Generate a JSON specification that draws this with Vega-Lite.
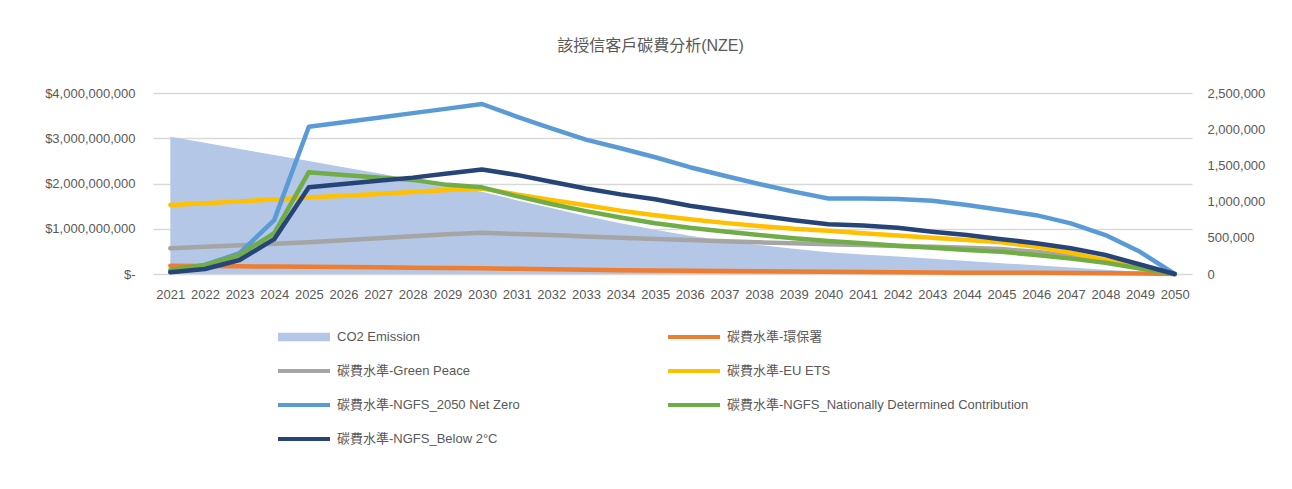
{
  "$schema": "https://vega.github.io/schema/vega-lite/v6.json",
  "width": 1039,
  "height": 181,
  "autosize": {"type": "none"},
  "padding": {"left": 153, "top": 93, "right": 100, "bottom": 215},
  "background": "white",
  "config": {
    "font": "Liberation Sans, Noto Sans CJK TC",
    "view": {"stroke": null},
    "axis": {"labelColor": "#595959", "labelFontSize": 13, "domain": false, "ticks": false, "titleColor": "#595959"},
    "legend": {"labelColor": "#595959", "labelFontSize": 13}
  },
  "title": {
    "text": "該授信客戶碳費分析(NZE)",
    "fontSize": 16,
    "fontWeight": "normal",
    "color": "#595959",
    "anchor": "middle",
    "dx": -22,
    "offset": 33
  },
  "data": {
    "values": [
      {"year": 2021, "co2": 1896000, "碳費水準-環保署": 180000000, "碳費水準-Green Peace": 567000000, "碳費水準-EU ETS": 1525000000, "碳費水準-NGFS_2050 Net Zero": 50000000, "碳費水準-NGFS_Nationally Determined Contribution": 90000000, "碳費水準-NGFS_Below 2°C": 37000000},
      {"year": 2022, "co2": 1812000, "碳費水準-環保署": 175000000, "碳費水準-Green Peace": 600000000, "碳費水準-EU ETS": 1565000000, "碳費水準-NGFS_2050 Net Zero": 200000000, "碳費水準-NGFS_Nationally Determined Contribution": 200000000, "碳費水準-NGFS_Below 2°C": 110000000},
      {"year": 2023, "co2": 1728000, "碳費水準-環保署": 170000000, "碳費水準-Green Peace": 635000000, "碳費水準-EU ETS": 1605000000, "碳費水準-NGFS_2050 Net Zero": 460000000, "碳費水準-NGFS_Nationally Determined Contribution": 420000000, "碳費水準-NGFS_Below 2°C": 310000000},
      {"year": 2024, "co2": 1644000, "碳費水準-環保署": 165000000, "碳費水準-Green Peace": 670000000, "碳費水準-EU ETS": 1645000000, "碳費水準-NGFS_2050 Net Zero": 1190000000, "碳費水準-NGFS_Nationally Determined Contribution": 900000000, "碳費水準-NGFS_Below 2°C": 770000000},
      {"year": 2025, "co2": 1560000, "碳費水準-環保署": 160000000, "碳費水準-Green Peace": 700000000, "碳費水準-EU ETS": 1690000000, "碳費水準-NGFS_2050 Net Zero": 3255000000, "碳費水準-NGFS_Nationally Determined Contribution": 2250000000, "碳費水準-NGFS_Below 2°C": 1915000000},
      {"year": 2026, "co2": 1475000, "碳費水準-環保署": 155000000, "碳費水準-Green Peace": 745000000, "碳費水準-EU ETS": 1730000000, "碳費水準-NGFS_2050 Net Zero": 3355000000, "碳費水準-NGFS_Nationally Determined Contribution": 2190000000, "碳費水準-NGFS_Below 2°C": 1990000000},
      {"year": 2027, "co2": 1390000, "碳費水準-環保署": 150000000, "碳費水準-Green Peace": 790000000, "碳費水準-EU ETS": 1770000000, "碳費水準-NGFS_2050 Net Zero": 3455000000, "碳費水準-NGFS_Nationally Determined Contribution": 2130000000, "碳費水準-NGFS_Below 2°C": 2060000000},
      {"year": 2028, "co2": 1305000, "碳費水準-環保署": 140000000, "碳費水準-Green Peace": 835000000, "碳費水準-EU ETS": 1810000000, "碳費水準-NGFS_2050 Net Zero": 3555000000, "碳費水準-NGFS_Nationally Determined Contribution": 2080000000, "碳費水準-NGFS_Below 2°C": 2130000000},
      {"year": 2029, "co2": 1220000, "碳費水準-環保署": 135000000, "碳費水準-Green Peace": 880000000, "碳費水準-EU ETS": 1856000000, "碳費水準-NGFS_2050 Net Zero": 3655000000, "碳費水準-NGFS_Nationally Determined Contribution": 1970000000, "碳費水準-NGFS_Below 2°C": 2220000000},
      {"year": 2030, "co2": 1137000, "碳費水準-環保署": 125000000, "碳費水準-Green Peace": 913000000, "碳費水準-EU ETS": 1890000000, "碳費水準-NGFS_2050 Net Zero": 3757000000, "碳費水準-NGFS_Nationally Determined Contribution": 1915000000, "碳費水準-NGFS_Below 2°C": 2310000000},
      {"year": 2031, "co2": 1020000, "碳費水準-環保署": 115000000, "碳費水準-Green Peace": 885000000, "碳費水準-EU ETS": 1760000000, "碳費水準-NGFS_2050 Net Zero": 3480000000, "碳費水準-NGFS_Nationally Determined Contribution": 1720000000, "碳費水準-NGFS_Below 2°C": 2190000000},
      {"year": 2032, "co2": 910000, "碳費水準-環保署": 105000000, "碳費水準-Green Peace": 860000000, "碳費水準-EU ETS": 1635000000, "碳費水準-NGFS_2050 Net Zero": 3220000000, "碳費水準-NGFS_Nationally Determined Contribution": 1547000000, "碳費水準-NGFS_Below 2°C": 2040000000},
      {"year": 2033, "co2": 800000, "碳費水準-環保署": 95000000, "碳費水準-Green Peace": 830000000, "碳費水準-EU ETS": 1520000000, "碳費水準-NGFS_2050 Net Zero": 2970000000, "碳費水準-NGFS_Nationally Determined Contribution": 1390000000, "碳費水準-NGFS_Below 2°C": 1890000000},
      {"year": 2034, "co2": 700000, "碳費水準-環保署": 85000000, "碳費水準-Green Peace": 800000000, "碳費水準-EU ETS": 1400000000, "碳費水準-NGFS_2050 Net Zero": 2780000000, "碳費水準-NGFS_Nationally Determined Contribution": 1250000000, "碳費水準-NGFS_Below 2°C": 1760000000},
      {"year": 2035, "co2": 610000, "碳費水準-環保署": 75000000, "碳費水準-Green Peace": 775000000, "碳費水準-EU ETS": 1300000000, "碳費水準-NGFS_2050 Net Zero": 2580000000, "碳費水準-NGFS_Nationally Determined Contribution": 1120000000, "碳費水準-NGFS_Below 2°C": 1650000000},
      {"year": 2036, "co2": 530000, "碳費水準-環保署": 70000000, "碳費水準-Green Peace": 750000000, "碳費水準-EU ETS": 1210000000, "碳費水準-NGFS_2050 Net Zero": 2360000000, "碳費水準-NGFS_Nationally Determined Contribution": 1020000000, "碳費水準-NGFS_Below 2°C": 1510000000},
      {"year": 2037, "co2": 460000, "碳費水準-環保署": 65000000, "碳費水準-Green Peace": 725000000, "碳費水準-EU ETS": 1130000000, "碳費水準-NGFS_2050 Net Zero": 2170000000, "碳費水準-NGFS_Nationally Determined Contribution": 940000000, "碳費水準-NGFS_Below 2°C": 1400000000},
      {"year": 2038, "co2": 400000, "碳費水準-環保署": 60000000, "碳費水準-Green Peace": 700000000, "碳費水準-EU ETS": 1060000000, "碳費水準-NGFS_2050 Net Zero": 1990000000, "碳費水準-NGFS_Nationally Determined Contribution": 860000000, "碳費水準-NGFS_Below 2°C": 1290000000},
      {"year": 2039, "co2": 350000, "碳費水準-環保署": 55000000, "碳費水準-Green Peace": 680000000, "碳費水準-EU ETS": 1000000000, "碳費水準-NGFS_2050 Net Zero": 1820000000, "碳費水準-NGFS_Nationally Determined Contribution": 790000000, "碳費水準-NGFS_Below 2°C": 1190000000},
      {"year": 2040, "co2": 300000, "碳費水準-環保署": 50000000, "碳費水準-Green Peace": 656000000, "碳費水準-EU ETS": 957000000, "碳費水準-NGFS_2050 Net Zero": 1670000000, "碳費水準-NGFS_Nationally Determined Contribution": 730000000, "碳費水準-NGFS_Below 2°C": 1100000000},
      {"year": 2041, "co2": 270000, "碳費水準-環保署": 45000000, "碳費水準-Green Peace": 640000000, "碳費水準-EU ETS": 900000000, "碳費水準-NGFS_2050 Net Zero": 1670000000, "碳費水準-NGFS_Nationally Determined Contribution": 680000000, "碳費水準-NGFS_Below 2°C": 1070000000},
      {"year": 2042, "co2": 240000, "碳費水準-環保署": 40000000, "碳費水準-Green Peace": 620000000, "碳費水準-EU ETS": 850000000, "碳費水準-NGFS_2050 Net Zero": 1657000000, "碳費水準-NGFS_Nationally Determined Contribution": 626000000, "碳費水準-NGFS_Below 2°C": 1020000000},
      {"year": 2043, "co2": 210000, "碳費水準-環保署": 35000000, "碳費水準-Green Peace": 600000000, "碳費水準-EU ETS": 800000000, "碳費水準-NGFS_2050 Net Zero": 1620000000, "碳費水準-NGFS_Nationally Determined Contribution": 580000000, "碳費水準-NGFS_Below 2°C": 935000000},
      {"year": 2044, "co2": 180000, "碳費水準-環保署": 30000000, "碳費水準-Green Peace": 580000000, "碳費水準-EU ETS": 750000000, "碳費水準-NGFS_2050 Net Zero": 1525000000, "碳費水準-NGFS_Nationally Determined Contribution": 530000000, "碳費水準-NGFS_Below 2°C": 860000000},
      {"year": 2045, "co2": 150000, "碳費水準-環保署": 30000000, "碳費水準-Green Peace": 550000000, "碳費水準-EU ETS": 700000000, "碳費水準-NGFS_2050 Net Zero": 1414000000, "碳費水準-NGFS_Nationally Determined Contribution": 490000000, "碳費水準-NGFS_Below 2°C": 770000000},
      {"year": 2046, "co2": 120000, "碳費水準-環保署": 25000000, "碳費水準-Green Peace": 490000000, "碳費水準-EU ETS": 600000000, "碳費水準-NGFS_2050 Net Zero": 1300000000, "碳費水準-NGFS_Nationally Determined Contribution": 420000000, "碳費水準-NGFS_Below 2°C": 680000000},
      {"year": 2047, "co2": 90000, "碳費水準-環保署": 20000000, "碳費水準-Green Peace": 400000000, "碳費水準-EU ETS": 470000000, "碳費水準-NGFS_2050 Net Zero": 1120000000, "碳費水準-NGFS_Nationally Determined Contribution": 340000000, "碳費水準-NGFS_Below 2°C": 570000000},
      {"year": 2048, "co2": 60000, "碳費水準-環保署": 15000000, "碳費水準-Green Peace": 290000000, "碳費水準-EU ETS": 310000000, "碳費水準-NGFS_2050 Net Zero": 860000000, "碳費水準-NGFS_Nationally Determined Contribution": 250000000, "碳費水準-NGFS_Below 2°C": 420000000},
      {"year": 2049, "co2": 30000, "碳費水準-環保署": 10000000, "碳費水準-Green Peace": 150000000, "碳費水準-EU ETS": 150000000, "碳費水準-NGFS_2050 Net Zero": 490000000, "碳費水準-NGFS_Nationally Determined Contribution": 120000000, "碳費水準-NGFS_Below 2°C": 210000000},
      {"year": 2050, "co2": 0, "碳費水準-環保署": 0, "碳費水準-Green Peace": 0, "碳費水準-EU ETS": 0, "碳費水準-NGFS_2050 Net Zero": 0, "碳費水準-NGFS_Nationally Determined Contribution": 0, "碳費水準-NGFS_Below 2°C": 0}
    ]
  },
  "encoding": {
    "x": {
      "field": "year",
      "type": "ordinal",
      "scale": {"type": "point", "padding": 0.5},
      "axis": {"title": null, "labelAngle": 0, "labelPadding": 14, "grid": false}
    }
  },
  "layer": [
    {
      "mark": {"type": "area", "opacity": 1},
      "encoding": {
        "y": {
          "field": "co2",
          "type": "quantitative",
          "scale": {"domain": [0, 2500000]},
          "axis": {"orient": "right", "title": null, "grid": false, "values": [0, 500000, 1000000, 1500000, 2000000, 2500000], "labelExpr": "format(datum.value, ',')", "labelPadding": 15}
        },
        "color": {
          "datum": "CO2 Emission",
          "type": "nominal"
        }
      }
    },
    {
      "transform": [
        {"fold": ["碳費水準-環保署", "碳費水準-Green Peace", "碳費水準-EU ETS", "碳費水準-NGFS_2050 Net Zero", "碳費水準-NGFS_Nationally Determined Contribution", "碳費水準-NGFS_Below 2°C"], "as": ["series", "value"]}
      ],
      "mark": {"type": "line", "strokeWidth": 4.5, "strokeCap": "round", "strokeJoin": "round"},
      "encoding": {
        "y": {
          "field": "value",
          "type": "quantitative",
          "scale": {"domain": [0, 4000000000]},
          "axis": {"orient": "left", "title": null, "grid": true, "gridColor": "#D9D9D9", "gridWidth": 1.3, "values": [0, 1000000000, 2000000000, 3000000000, 4000000000], "labelExpr": "datum.value == 0 ? '$-' : '$' + format(datum.value, ',')", "labelPadding": 18}
        },
        "color": {
          "field": "series",
          "type": "nominal",
          "scale": {
            "domain": ["CO2 Emission", "碳費水準-Green Peace", "碳費水準-NGFS_2050 Net Zero", "碳費水準-NGFS_Below 2°C", "碳費水準-環保署", "碳費水準-EU ETS", "碳費水準-NGFS_Nationally Determined Contribution"],
            "range": ["#B4C7E7", "#A5A5A5", "#5B9BD5", "#264478", "#ED7D31", "#FFC000", "#70AD47"]
          },
          "legend": {
            "title": null,
            "orient": "none",
            "legendX": 125,
            "legendY": 237,
            "columns": 2,
            "columnPadding": 148,
            "rowPadding": 20,
            "clipHeight": 14,
            "symbolSize": 2704,
            "symbolType": "M-1,-0.08H1V0.08H-1Z",
            "labelOffset": 7,
            "labelLimit": 500,
            "encode": {
              "symbols": {
                "update": {
                  "shape": {"signal": "datum.value === 'CO2 Emission' ? 'M-1,-0.16H1V0.16H-1Z' : 'M-1,-0.08H1V0.08H-1Z'"},
                  "fill": {"scale": "color", "field": "value"},
                  "stroke": {"scale": "color", "field": "value"},
                  "strokeWidth": {"value": 0},
                  "opacity": {"value": 1}
                }
              }
            }
          }
        }
      }
    }
  ],
  "resolve": {"scale": {"y": "independent"}}
}
